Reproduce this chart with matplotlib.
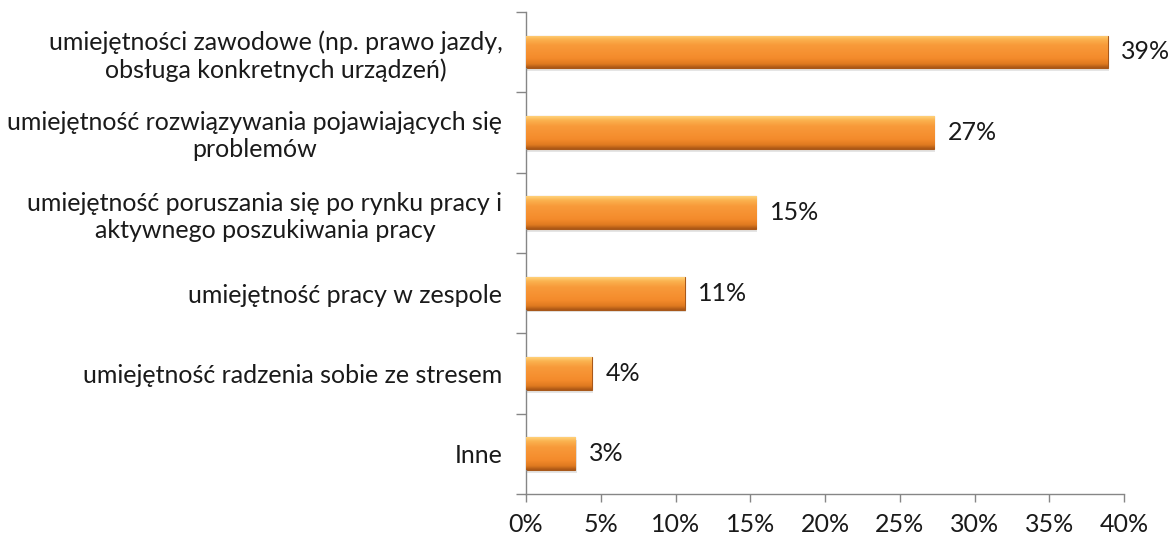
import matplotlib.pyplot as plt
import numpy as np
from matplotlib.colors import LinearSegmentedColormap

plt.rcParams['font.family'] = ['Lato', 'DejaVu Sans']

categories = [
    "umiejętności zawodowe (np. prawo jazdy,\nobsługa konkretnych urządzeń)",
    "umiejętność rozwiązywania pojawiających się\nproblemów",
    "umiejętność poruszania się po rynku pracy i\naktywnego poszukiwania pracy",
    "umiejętność pracy w zespole",
    "umiejętność radzenia sobie ze stresem",
    "Inne",
]
values = [38.9, 27.3, 15.4, 10.6, 4.4, 3.3]
xticks = [0, 5, 10, 15, 20, 25, 30, 35, 40]

fig = plt.figure(figsize=(11.69, 5.37), dpi=100)
ax = fig.add_axes([0.450, 0.080, 0.5115, 0.898])

y = np.arange(len(categories))[::-1]
bars = ax.barh(y, values, height=0.41, color="#F7923A", edgecolor="#A8581A", linewidth=0.8, zorder=2)

# vertical gradient inside each bar (dark bottom, light top)
grad_cmap = LinearSegmentedColormap.from_list(
    "bar", [(0, "#A85515"), (0.12, "#E07A20"), (0.3, "#F48B2C"), (0.7, "#F89A3A"),
            (0.88, "#FBB24F"), (1, "#FFD27A")])
grad = np.linspace(0, 1, 64).reshape(-1, 1)
for b in bars:
    x0, y0 = b.get_x(), b.get_y()
    w, h = b.get_width(), b.get_height()
    im = ax.imshow(grad, cmap=grad_cmap, aspect="auto", origin="lower",
                   extent=(x0, x0 + w, y0, y0 + h), zorder=3, interpolation="bicubic")
    im.set_clip_path(b)
    # soft shadow under bar
    ax.barh(y0 + h / 2 - 0.035, w, height=h, left=x0 + 0.08, color="#000000", alpha=0.1,
            linewidth=0, zorder=1)

ax.bar_label(bars, labels=["%d%%" % round(v) for v in values], padding=10,
             fontsize=18, color="#1a1a1a")

ax.set_xlim(0, 40)
ax.set_ylim(-0.5, len(categories) - 0.5)
ax.set_xticks(xticks)
ax.set_xticklabels(["%d%%" % t for t in xticks], fontsize=18, color="#1a1a1a")
ax.set_yticks(y)
ax.set_yticklabels(categories, fontsize=18, color="#1a1a1a")
for lbl in ax.get_yticklabels():
    lbl.set_multialignment("center")
ax.tick_params(axis="y", length=0, pad=17)
ax.set_yticks(np.arange(-0.5, len(categories)), minor=True)
ax.tick_params(axis="y", which="minor", length=7, color="#868686", width=1)
ax.tick_params(axis="x", length=6, color="#868686", width=1, pad=8)

for s in ["top", "right"]:
    ax.spines[s].set_visible(False)
for s in ["left", "bottom"]:
    ax.spines[s].set_color("#868686")
    ax.spines[s].set_linewidth(1)

plt.savefig("out.png", dpi=100)
